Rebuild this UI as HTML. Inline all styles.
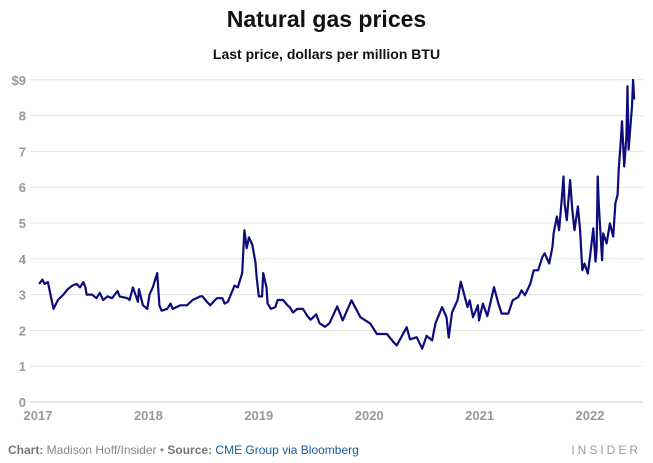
<!DOCTYPE html>
<html><head><meta charset="utf-8">
<style>
html,body{margin:0;padding:0;background:#fff;}
body{width:653px;height:463px;overflow:hidden;font-family:"Liberation Sans",sans-serif;position:relative;}
.t{position:absolute;left:0;width:653px;text-align:center;font-weight:bold;color:#111;}
.foot{position:absolute;left:8px;top:443px;font-size:12px;color:#888;}
.foot b{color:#777;}
.src{color:#1a5aa0;}
.ins{position:absolute;right:12px;top:443px;font-size:12px;letter-spacing:3px;color:#999;}
</style></head><body>
<div class="t" style="top:6px;font-size:23px;">Natural gas prices</div>
<div class="t" style="top:46px;font-size:14px;">Last price, dollars per million BTU</div>
<svg id="chart" width="653" height="463" style="position:absolute;left:0;top:0"></svg>
<div class="foot"><b>Chart:</b> Madison Hoff/Insider • <b>Source:</b> <span class="src">CME Group via Bloomberg</span></div>
<div class="ins">INSIDER</div>
<script>
const dates=[2017.01,2017.04,2017.06,2017.09,2017.14,2017.18,2017.23,2017.27,2017.31,2017.35,2017.38,2017.41,2017.43,2017.44,2017.49,2017.53,2017.56,2017.59,2017.63,2017.67,2017.72,2017.74,2017.81,2017.83,2017.86,2017.905,2017.915,2017.95,2017.99,2018.01,2018.04,2018.08,2018.10,2018.12,2018.17,2018.20,2018.22,2018.29,2018.35,2018.40,2018.47,2018.49,2018.53,2018.56,2018.62,2018.67,2018.69,2018.72,2018.76,2018.78,2018.81,2018.85,2018.87,2018.89,2018.91,2018.94,2018.97,2018.98,2019.00,2019.03,2019.04,2019.07,2019.08,2019.11,2019.15,2019.17,2019.22,2019.26,2019.28,2019.31,2019.35,2019.40,2019.44,2019.47,2019.52,2019.55,2019.60,2019.64,
2019.71,2019.76,2019.84,2019.92,2020.01,2020.07,2020.16,2020.22,2020.25,2020.34,2020.37,2020.43,2020.48,2020.52,2020.57,2020.60,2020.66,2020.70,2020.72,2020.75,2020.80,2020.83,2020.89,2020.91,2020.94,2020.985,2020.995,
2021.03,2021.07,2021.11,2021.13,2021.17,2021.20,2021.26,2021.30,2021.35,2021.38,2021.41,2021.46,2021.49,2021.53,2021.57,2021.59,2021.63,2021.66,2021.67,2021.70,2021.72,2021.75,2021.76,2021.77,2021.79,2021.82,2021.84,2021.86,2021.89,2021.91,2021.93,2021.95,2021.98,2022.00,2022.03,2022.05,2022.06,2022.07,2022.08,2022.11,2022.12,2022.15,2022.18,2022.21,2022.23,2022.25,2022.26,2022.28,2022.29,2022.31,2022.33,2022.34,2022.35,2022.38,2022.39,2022.40];
const prices=[3.3,3.42,3.3,3.35,2.6,2.85,3.0,3.15,3.25,3.3,3.2,3.35,3.2,3.0,3.0,2.9,3.05,2.85,2.95,2.9,3.1,2.95,2.9,2.85,3.2,2.8,3.15,2.7,2.6,3.0,3.2,3.6,2.7,2.55,2.6,2.75,2.6,2.7,2.7,2.85,2.95,2.95,2.8,2.7,2.9,2.9,2.75,2.8,3.1,3.25,3.2,3.6,4.8,4.3,4.6,4.4,3.9,3.5,2.95,2.95,3.6,3.2,2.75,2.6,2.65,2.85,2.85,2.7,2.65,2.5,2.6,2.6,2.4,2.3,2.45,2.2,2.1,2.2,
2.67,2.28,2.84,2.37,2.19,1.9,1.9,1.67,1.58,2.09,1.75,1.81,1.49,1.85,1.72,2.19,2.65,2.37,1.8,2.5,2.84,3.36,2.65,2.84,2.37,2.7,2.28,
2.75,2.4,2.93,3.21,2.75,2.47,2.47,2.84,2.93,3.12,2.98,3.31,3.68,3.68,4.06,4.15,3.87,4.34,4.71,5.18,4.8,5.88,6.3,5.55,5.08,6.2,5.37,4.8,5.46,4.8,3.68,3.87,3.59,4.06,4.85,3.92,4.25,6.3,5.5,3.96,4.71,4.43,4.99,4.62,5.55,5.79,6.49,7.33,7.84,6.58,7.42,8.82,7.05,8.26,9.0,8.45];
const yTicks=[0,1,2,3,4,5,6,7,8,9];
const yTickLabels=["0","1","2","3","4","5","6","7","8","$9"];
const xTicks=[2017,2018,2019,2020,2021,2022];
const xTickLabels=["2017","2018","2019","2020","2021","2022"];

const NS="http://www.w3.org/2000/svg";
const svg=document.getElementById('chart');
const xS=y=>38+(y-2017)*110.4;
const yS=v=>402-v*35.8;
function mk(tag,attrs){const e=document.createElementNS(NS,tag);for(const k in attrs)e.setAttribute(k,attrs[k]);svg.appendChild(e);return e;}
yTicks.forEach((v,i)=>{
  const l=mk('line',{x1:30,x2:643,y1:yS(v),y2:yS(v),stroke:v===0?'#c8c8c8':'#e3e3e3','stroke-width':1});
  
  
  const t=mk('text',{x:26,y:yS(v)+5,'text-anchor':'end','font-size':13,'font-weight':'bold',fill:'#999','font-family':'Liberation Sans, sans-serif'});
  t.textContent=yTickLabels[i];
  
  
});
xTicks.forEach((yr,i)=>{
  const t=mk('text',{x:xS(yr),y:420,'text-anchor':'middle','font-size':13,'font-weight':'bold',fill:'#999','font-family':'Liberation Sans, sans-serif'});
  t.textContent=xTickLabels[i];
  
  
});
const d=dates.map((yr,i)=>(i?'L':'M')+xS(yr).toFixed(1)+','+yS(prices[i]).toFixed(1)).join('');
const p=mk('path',{d:d,fill:'none',stroke:'#0c0c7c','stroke-width':2.2,'stroke-linejoin':'round'});


</script>
</body></html>
